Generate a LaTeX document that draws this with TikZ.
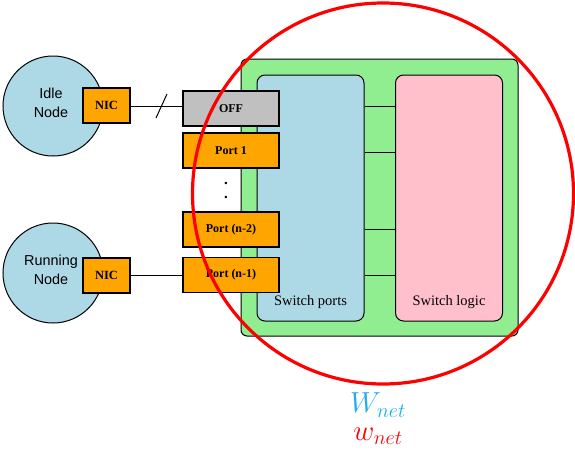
\RequirePackage{fix-cm}
\documentclass[tikz,border=0pt]{standalone}
\usepackage{fontspec}
\setmainfont{Liberation Serif}
\setsansfont{Liberation Sans}
\usetikzlibrary{calc}

\definecolor{nodeblue}{HTML}{ADD8E6}
\definecolor{portorange}{HTML}{FFA500}
\definecolor{offgray}{HTML}{C0C0C0}
\definecolor{switchgreen}{HTML}{90EE90}
\definecolor{logicpink}{HTML}{FFC0CB}
\definecolor{wblue}{RGB}{30,172,238}

\tikzset{
  host/.style={circle, draw, fill=nodeblue, minimum size=100pt, inner sep=0pt, line width=1pt},
  hosttext/.style={align=center, font=\sffamily\fontsize{14.4}{19}\selectfont},
  nic/.style={draw, fill=portorange, minimum width=47pt, minimum height=35pt, inner sep=0pt,
    line width=1.3pt, font=\bfseries\fontsize{12.5}{14}\selectfont},
  port/.style={draw, fill=portorange, minimum width=96pt, minimum height=35pt, inner sep=0pt,
    line width=1.6pt, font=\bfseries\fontsize{12}{14}\selectfont},
  panel/.style={draw, rounded corners=8pt, minimum width=107pt, minimum height=246pt,
    inner sep=0pt, line width=1pt},
  panellabel/.style={font=\fontsize{14.5}{16}\selectfont},
  link/.style={line width=1pt},
  powerlabel/.style={font=\fontsize{29}{32}\selectfont},
}

\begin{document}
\begin{tikzpicture}[x=1pt, y=-1pt]
\useasboundingbox (0,0) rectangle (575,453);

% end hosts
\node[host, label={[hosttext, xshift=-2pt, yshift=3.5pt]center:Idle\\Node}] (idle) at (53,106) {};
\node[host, label={[hosttext, xshift=-2pt, yshift=3.5pt]center:Running\\Node}] (run) at (53,273) {};
\node[nic] (nicA) at (106.5,105.5) {NIC};
\node[nic] (nicB) at (106.5,275.5) {NIC};

% switch body
\node[draw, fill=switchgreen, rounded corners=6pt, minimum width=277pt, minimum height=277pt,
  inner sep=0pt, line width=1pt] (switch) at (379.5,197.5) {};
\node[panel, fill=nodeblue] (ports) at (310.5,198) {};
\node[panel, fill=logicpink] (logic) at (449,198) {};
\node[panellabel] (portslbl) at (310.5,302) {Switch ports};
\node[panellabel] (logiclbl) at (449,302) {Switch logic};

% internal links between ports and logic
\foreach \yy in {106,152,229,275}
  \draw[link] (ports.east |- 0,\yy) -- (logic.west |- 0,\yy);

% switch ports
\node[port, fill=offgray, line width=1.9pt] (off) at (231,108.5) {OFF};
\node[port] (p1) at (231,150.5) {Port 1};
\node[align=center, font=\bfseries\fontsize{15}{14}\selectfont, inner sep=0pt] (dots) at (226,190) {.\\.};
\node[port] (pn2) at (231,229.5) {Port (n-2)};
\node[port] (pn1) at (231,275) {Port (n-1)};

% cables: the idle link is cut
\draw[link] (nicA.east |- 0,106) -- (off.west |- 0,106) coordinate[pos=0.6] (cut);
\draw[link] ($(cut)+(-5.5,12)$) -- ($(cut)+(5.5,-12)$);
\draw[link] (nicB.east |- 0,275) -- (pn1.west |- 0,275);

% network power boundary
\node[circle, draw=red, line width=3.2pt, minimum size=381pt, inner sep=0pt] (bound) at (383,193.5) {};

\node[text=wblue, powerlabel] (Wnet) at (378,405) {$W_{net}$};
\node[text=red, powerlabel] (wnet) at (378,436) {$w_{net}$};
\end{tikzpicture}
\end{document}
